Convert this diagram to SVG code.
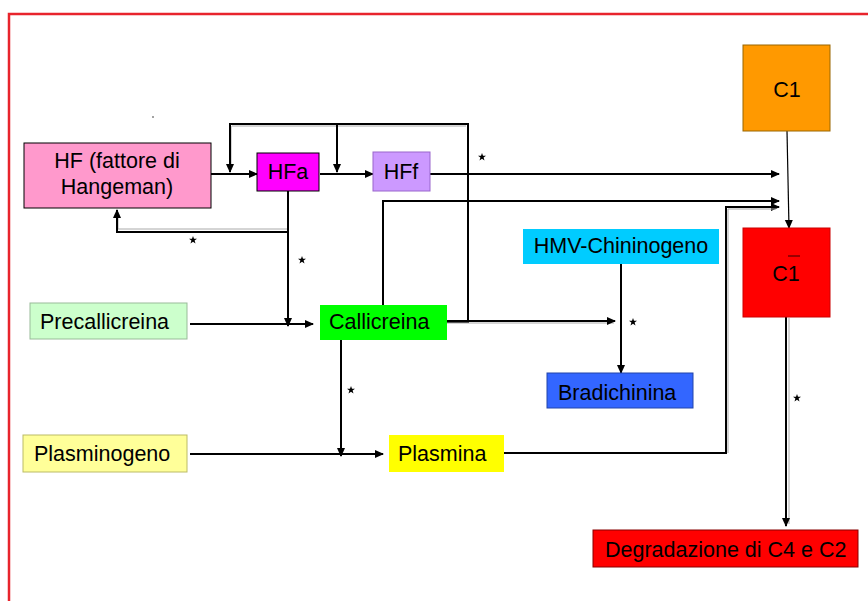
<svg xmlns="http://www.w3.org/2000/svg" width="868" height="601" viewBox="0 0 868 601">
<style>
.t{font-family:"Liberation Sans",Arial,sans-serif;font-size:21.5px;fill:#000}
.c{fill:none;stroke:#000;stroke-width:2}
.s{fill:none;stroke:#aaa;stroke-width:1}
.b{stroke:#000;stroke-width:1}
</style>
<defs>
<marker id="a" markerWidth="10" markerHeight="10" refX="8" refY="5" orient="auto" markerUnits="userSpaceOnUse">
<path d="M0,1 L9,5 L0,9 Z" fill="#000"/>
</marker>
<polygon id="star" points="0,-4 1,-1.2 4,-1.2 1.6,0.6 2.5,3.5 0,1.8 -2.5,3.5 -1.6,0.6 -4,-1.2 -1,-1.2" fill="#000"/>
</defs>
<rect x="9" y="14" width="880" height="620" fill="none" stroke="#E8242C" stroke-width="2.5"/>
<circle cx="153" cy="117" r="0.7" fill="#000"/>
<g id="connectors">
<path class="s" d="M231,126 V170 M232,126 H466"/>
<path class="c" d="M447,322 H468 V124 H230 V172" marker-end="url(#a)"/>
<path class="c" d="M337,124 V172" marker-end="url(#a)"/>
<path class="c" d="M211,174 H257" marker-end="url(#a)"/>
<path class="c" d="M320,174 H373" marker-end="url(#a)"/>
<path class="c" d="M430,174 H779" marker-end="url(#a)"/>
<path class="c" d="M288,191 V326" marker-end="url(#a)"/>
<path class="s" d="M287,229 H118 V212"/>
<path class="c" d="M288,232 H117 V210" marker-end="url(#a)"/>
<path class="c" d="M190,324 H313" marker-end="url(#a)"/>
<path class="c" d="M383,305 V201 H779" marker-end="url(#a)"/>
<path class="s" d="M447,323 H614"/>
<path class="c" d="M447,321 H615" marker-end="url(#a)"/>
<path class="c" d="M621,264 V373" marker-end="url(#a)"/>
<path class="c" d="M341,340 V456" marker-end="url(#a)"/>
<path class="c" d="M190,454 H383" marker-end="url(#a)"/>
<path class="c" d="M504,453 H726 V207 H779" marker-end="url(#a)"/>
<path class="s" d="M728,453 V209 H776"/>
<path class="c" d="M787,131 L789,228" marker-end="url(#a)" style="stroke-width:1.2"/>
<path class="s" d="M789,318 V524"/>
<path class="c" d="M786,317 V526" marker-end="url(#a)"/>
<use href="#star" x="482" y="157"/>
<use href="#star" x="193" y="240"/>
<use href="#star" x="302" y="260"/>
<use href="#star" x="633" y="322"/>
<use href="#star" x="351" y="390"/>
<use href="#star" x="797" y="398"/>
</g>
<g id="hf"><rect class="b" x="24" y="143" width="187" height="65" fill="#FF99CC"/><text class="t" x="117" y="168" text-anchor="middle">HF (fattore di</text><text class="t" x="117" y="194" text-anchor="middle">Hangeman)</text></g>
<g id="hfa"><rect class="b" x="257" y="153" width="62" height="38" fill="#FF00FF"/><text class="t" x="288" y="179" text-anchor="middle">HFa</text></g>
<g id="hff"><rect x="373" y="152" width="57" height="39" fill="#CC99FF" stroke="#9966CC" stroke-width="1"/><text class="t" x="401" y="179" text-anchor="middle">HFf</text></g>
<g id="c1"><rect x="743" y="45" width="87" height="86" fill="#FF9900" stroke="#996600" stroke-width="1"/><text class="t" x="787" y="97" text-anchor="middle">C1</text></g>
<g id="c1bar"><rect x="743" y="228" width="87" height="89" fill="#FF0000" stroke="#CC0000" stroke-width="1"/><text class="t" x="786" y="281" text-anchor="middle">C1</text><line x1="788" y1="256" x2="800" y2="256" stroke="#000" stroke-width="0.8"/></g>
<g id="hmv"><rect x="523" y="229" width="196" height="35" fill="#00CCFF"/><text class="t" x="621" y="253" text-anchor="middle">HMV-Chininogeno</text></g>
<g id="precallicreina"><rect x="30" y="303" width="157" height="36" fill="#CCFFCC" stroke="#99BB99" stroke-width="1"/><text class="t" x="40" y="329">Precallicreina</text></g>
<g id="callicreina"><rect x="320" y="305" width="127" height="35" fill="#00FF00"/><text class="t" x="329" y="329">Callicreina</text></g>
<g id="bradichinina"><rect x="547" y="373" width="146" height="35" fill="#3366FF" stroke="#2244AA" stroke-width="1"/><text class="t" x="558" y="400">Bradichinina</text></g>
<g id="plasminogeno"><rect x="23" y="435" width="164" height="37" fill="#FFFF99" stroke="#BBBB66" stroke-width="1"/><text class="t" x="34" y="461">Plasminogeno</text></g>
<g id="plasmina"><rect x="389" y="435" width="115" height="37" fill="#FFFF00"/><text class="t" x="398" y="461">Plasmina</text></g>
<g id="degradazione"><rect x="593" y="530" width="265" height="37" fill="#FF0000" stroke="#880000" stroke-width="1"/><text class="t" x="605" y="557">Degradazione di C4 e C2</text></g>
</svg>
